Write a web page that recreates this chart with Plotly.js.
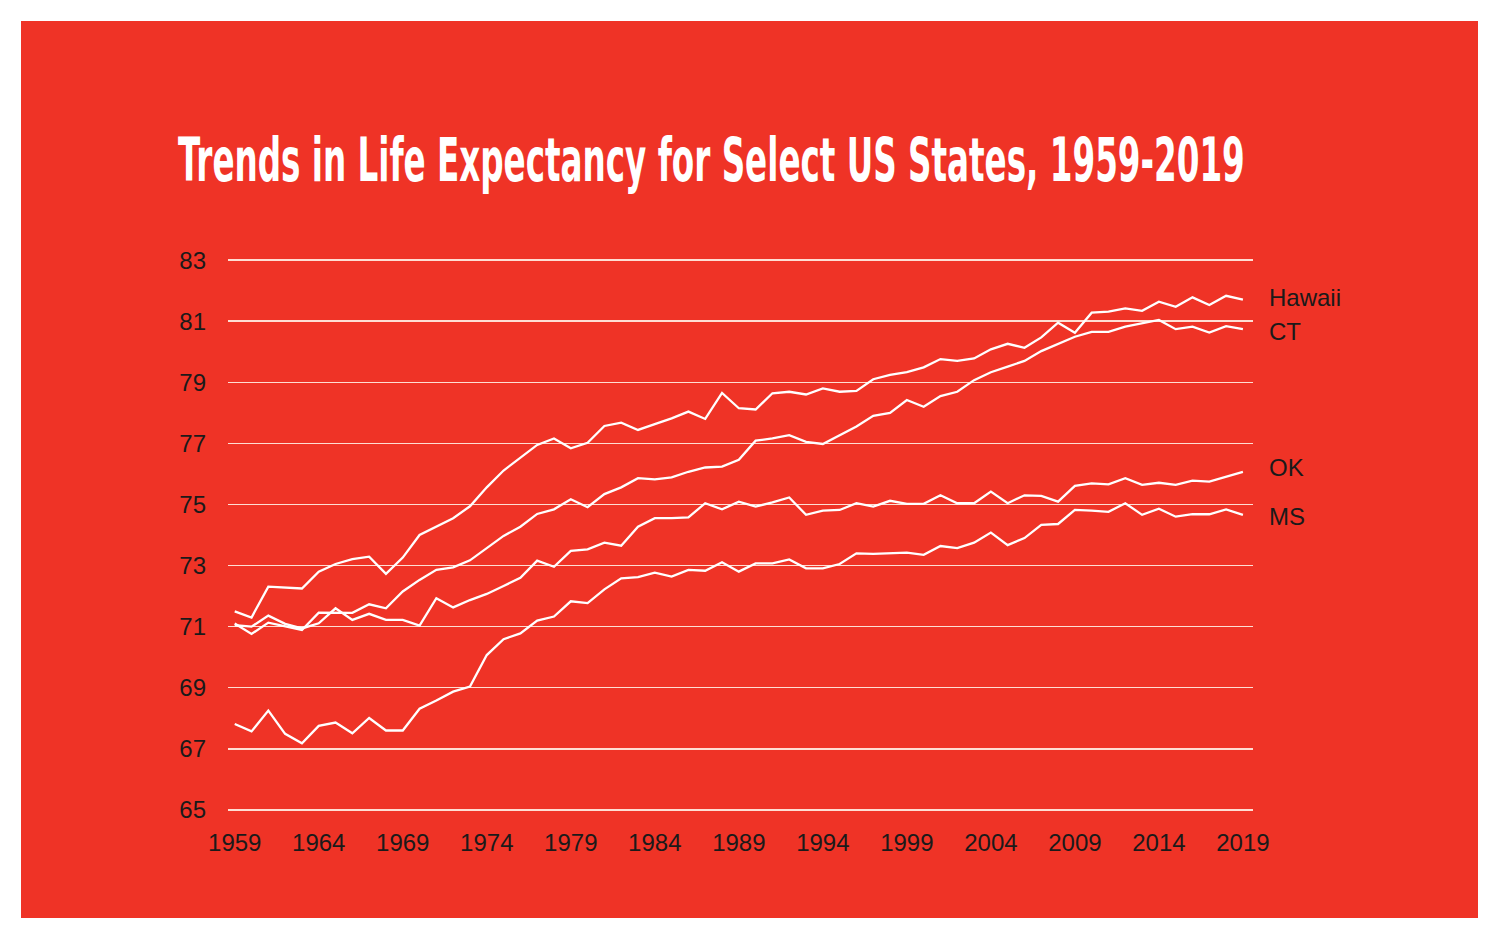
<!DOCTYPE html>
<html>
<head>
<meta charset="utf-8">
<script src="https://cdn.plot.ly/plotly-3.0.1.min.js"></script>
<style>
  html, body { margin: 0; padding: 0; background: #ffffff; }
  #chart { position: absolute; left: 21px; top: 21px; width: 1457px; height: 897px; }
</style>
</head>
<body>
<div id="chart"></div>
<script>
const years = [];
for (let y = 1959; y <= 2019; y++) years.push(y);

const hawaii = [71.5, 71.3, 72.31, 72.28, 72.25, 72.8, 73.05, 73.21, 73.29, 72.73,
  73.26, 74.0, 74.27, 74.55, 74.94, 75.56, 76.11, 76.54, 76.95, 77.16,
  76.84, 77.02, 77.57, 77.68, 77.44, 77.63, 77.82, 78.04, 77.8, 78.65,
  78.15, 78.11, 78.64, 78.69, 78.6, 78.8, 78.69, 78.72, 79.1, 79.24,
  79.33, 79.49, 79.76, 79.7, 79.78, 80.08, 80.26, 80.13, 80.47, 80.95,
  80.62, 81.28, 81.31, 81.42, 81.34, 81.64, 81.47, 81.78, 81.53, 81.83, 81.71];

const ct = [71.1, 70.76, 71.13, 71.0, 70.89, 71.46, 71.45, 71.45, 71.73, 71.6,
  72.15, 72.53, 72.86, 72.94, 73.17, 73.56, 73.97, 74.27, 74.69, 74.84,
  75.17, 74.91, 75.34, 75.56, 75.86, 75.82, 75.89, 76.07, 76.21, 76.24,
  76.46, 77.09, 77.16, 77.27, 77.05, 76.98, 77.27, 77.55, 77.9, 78.0,
  78.42, 78.2, 78.55, 78.69, 79.07, 79.33, 79.51, 79.7, 80.02, 80.25,
  80.49, 80.65, 80.65, 80.82, 80.93, 81.04, 80.74, 80.82, 80.63, 80.84, 80.74];

const ok = [71.05, 71.0, 71.36, 71.09, 70.94, 71.11, 71.6, 71.22, 71.42, 71.22,
  71.22, 71.03, 71.93, 71.63, 71.87, 72.07, 72.33, 72.6, 73.16, 72.96,
  73.48, 73.53, 73.75, 73.65, 74.27, 74.55, 74.55, 74.58, 75.04, 74.84,
  75.09, 74.93, 75.07, 75.23, 74.66, 74.8, 74.82, 75.04, 74.93, 75.12,
  75.02, 75.02, 75.3, 75.04, 75.04, 75.42, 75.04, 75.3, 75.28, 75.09,
  75.61, 75.69, 75.66, 75.86, 75.64, 75.71, 75.64, 75.78, 75.75, 75.91, 76.07];

const ms = [67.81, 67.57, 68.25, 67.49, 67.18, 67.75, 67.86, 67.51, 68.01, 67.6,
  67.6, 68.31, 68.58, 68.87, 69.04, 70.07, 70.59, 70.78, 71.2, 71.33,
  71.83, 71.77, 72.22, 72.58, 72.62, 72.77, 72.64, 72.86, 72.83, 73.11,
  72.8, 73.07, 73.07, 73.2, 72.91, 72.91, 73.05, 73.4, 73.38, 73.4,
  73.42, 73.35, 73.64, 73.57, 73.75, 74.08, 73.67, 73.9, 74.33, 74.36,
  74.82, 74.8, 74.76, 75.04, 74.66, 74.86, 74.6, 74.68, 74.68, 74.84, 74.66];

const seriesNames = ['Hawaii', 'CT', 'OK', 'MS'];
const seriesValues = [hawaii, ct, ok, ms];
const labelShift = [2, -2, 4, -2];

const xTickVals = [1959, 1964, 1969, 1974, 1979, 1984, 1989, 1994, 1999, 2004, 2009, 2014, 2019];
const yTickVals = [65, 67, 69, 71, 73, 75, 77, 79, 81, 83];

const textFont = 'Liberation Sans, Arial, Helvetica, sans-serif';
const red = '#EF3326';

const traces = seriesValues.map((vals, i) => ({
  x: years,
  y: vals,
  name: seriesNames[i],
  type: 'scatter',
  mode: 'lines',
  line: { color: '#ffffff', width: 2.3 },
  hoverinfo: 'skip'
}));

const annotations = seriesValues.map((vals, i) => ({
  x: years[years.length - 1],
  y: vals[vals.length - 1],
  xref: 'x', yref: 'y',
  text: seriesNames[i],
  showarrow: false,
  xanchor: 'left',
  yanchor: 'middle',
  xshift: 24,
  yshift: labelShift[i],
  font: { family: textFont, size: 24, color: '#1a1a1a' }
}));

const layout = {
  width: 1457,
  height: 897,
  paper_bgcolor: red,
  plot_bgcolor: red,
  margin: { l: 207, r: 225, t: 233, b: 102 },
  showlegend: false,
  hovermode: false,
  title: {
    text: 'Trends in Life Expectancy for Select US States, 1959-2019',
    font: { family: 'Liberation Sans Narrow, DejaVu Sans Condensed, Arial Narrow, sans-serif', size: 60, color: '#ffffff', weight: 700 },
    xref: 'container', yref: 'container',
    x: 0.1078, xanchor: 'left',
    y: 0.845, yanchor: 'middle'
  },
  xaxis: {
    range: [1958.6, 2019.6],
    tickmode: 'array',
    tickvals: xTickVals,
    ticktext: xTickVals.map(String),
    showgrid: false,
    zeroline: false,
    showline: false,
    ticks: '',
    ticklabelstandoff: 10,
    tickfont: { family: textFont, size: 24, color: '#1a1a1a' }
  },
  yaxis: {
    range: [64.8, 83.2],
    tickmode: 'array',
    tickvals: yTickVals,
    ticktext: yTickVals.map(String),
    showgrid: true,
    gridcolor: 'rgba(255,232,220,0.95)',
    gridwidth: 1.5,
    zeroline: false,
    showline: false,
    ticks: '',
    ticklabelstandoff: 21,
    tickfont: { family: textFont, size: 24, color: '#1a1a1a' }
  },
  annotations: annotations
};

Plotly.newPlot('chart', traces, layout, { staticPlot: true, displayModeBar: false }).then(() => {
  const t = document.querySelector('#chart .gtitle');
  if (t) {
    const bb = t.getBBox();
    const target = 1067;
    const sx = target / bb.width;
    const x0 = bb.x;
    t.setAttribute('transform', 'translate(' + (x0 * (1 - sx)) + ',0) scale(' + sx + ',1)');
  }
});
</script>
</body>
</html>
